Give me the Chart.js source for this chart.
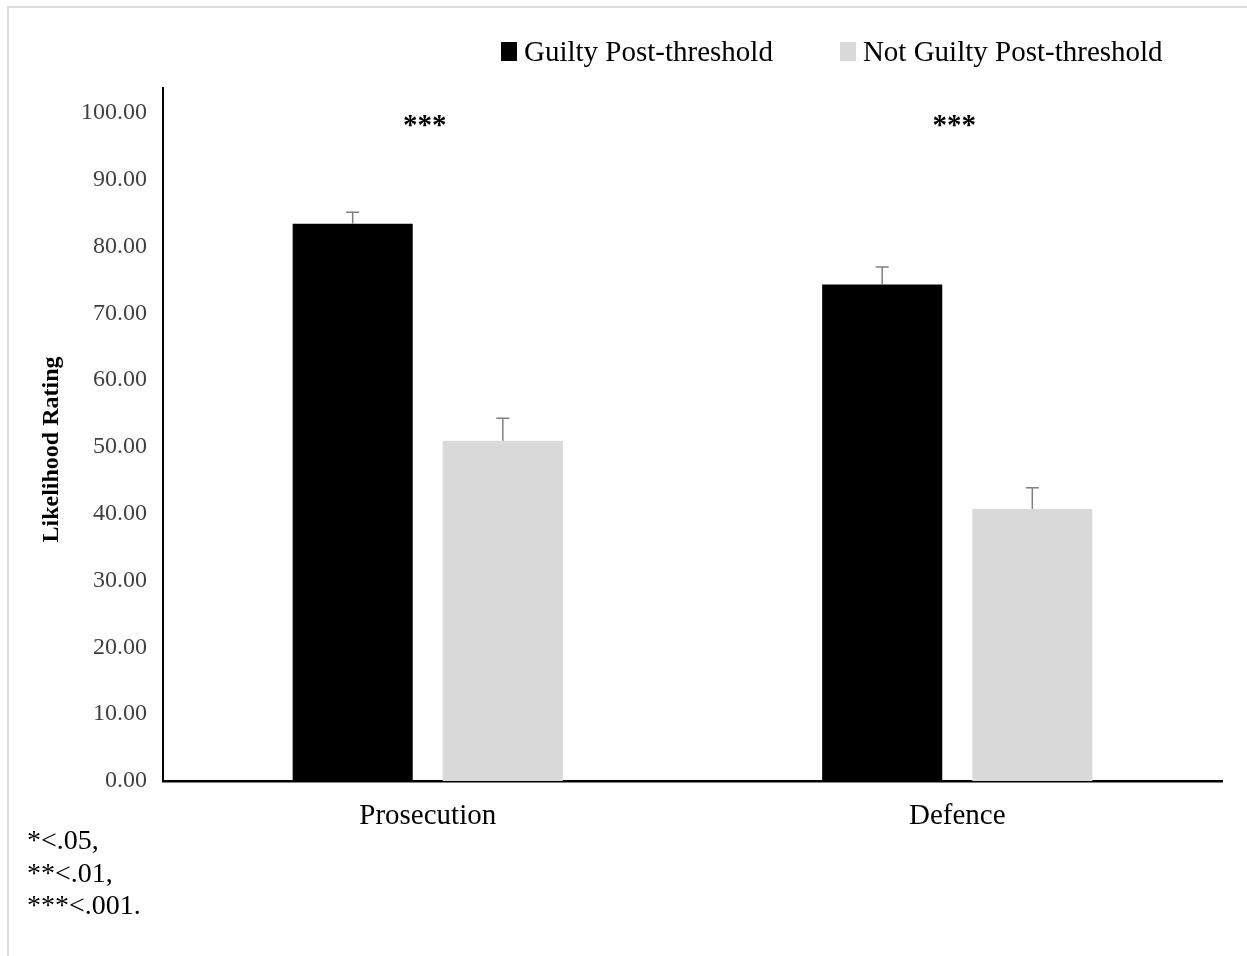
<!DOCTYPE html>
<html>
<head>
<meta charset="utf-8">
<script src="https://cdn.jsdelivr.net/npm/chart.js@4.4.1/dist/chart.umd.min.js"></script>
<style>
    body { margin: 0; background: #fff; }
    #wrap { position: relative; width: 1247px; height: 956px; font-family: "Liberation Serif", "Times New Roman", serif; }
    #frame { position: absolute; left: 7px; top: 6px; right: 0; bottom: 0; border-top: 2px solid #dcdcdc; border-left: 2px solid #dcdcdc; }
    #chart-box { position: absolute; left: 0; top: 0; width: 1247px; height: 956px; }
    #legend { position: absolute; left: 501px; top: 36px; display: flex; gap: 67px; font-size: 29px; line-height: 30px; color: #000; }
    #legend span.item { display: flex; align-items: center; }
    #legend span.swatch { display: inline-block; width: 16px; height: 19px; margin-right: 7px; }
    #notes { position: absolute; left: 27px; top: 824px; font-size: 28px; line-height: 32.5px; color: #000; }
</style>
</head>
<body>
<div id="wrap">
    <div id="frame"></div>
    <div id="chart-box"><canvas id="chart"></canvas></div>
    <div id="legend"></div>
    <div id="notes">*&lt;.05,<br>**&lt;.01,<br>***&lt;.001.</div>
</div>
<script>
// Data
const categories = ['Prosecution', 'Defence'];
const seriesNames = ['Guilty Post-threshold', 'Not Guilty Post-threshold'];
const seriesColors = ['#000000', '#d9d9d9'];
const guiltyMeans = [83.4, 74.3];
const guiltyErr = [1.7, 2.6];
const notGuiltyMeans = [50.9, 40.7];
const notGuiltyErr = [3.4, 3.2];
const sigLabels = ['***', '***'];
const sigLevel = 97;
const yTicks = [0, 10, 20, 30, 40, 50, 60, 70, 80, 90, 100];

const serif = '"Liberation Serif", "Times New Roman", serif';

// Legend built as html so it can sit off-centre like the original
const legendEl = document.getElementById('legend');
seriesNames.forEach((name, i) => {
    const item = document.createElement('span');
    item.className = 'item';
    const sw = document.createElement('span');
    sw.className = 'swatch';
    sw.style.background = seriesColors[i];
    item.appendChild(sw);
    item.appendChild(document.createTextNode(name));
    legendEl.appendChild(item);
});

// Upward-only error bars drawn from the bar elements
const errorBars = {
    id: 'errorBars',
    afterDatasetsDraw(chart) {
        const ctx = chart.ctx;
        const yScale = chart.scales.y;
        ctx.save();
        ctx.strokeStyle = '#7f7f7f';
        ctx.lineWidth = 1.5;
        chart.data.datasets.forEach((ds, i) => {
            const meta = chart.getDatasetMeta(i);
            meta.data.forEach((bar, j) => {
                const top = yScale.getPixelForValue(ds.data[j] + ds.errors[j]);
                const base = yScale.getPixelForValue(ds.data[j]);
                ctx.beginPath();
                ctx.moveTo(bar.x, base);
                ctx.lineTo(bar.x, top);
                ctx.moveTo(bar.x - 6.5, top);
                ctx.lineTo(bar.x + 6.5, top);
                ctx.stroke();
            });
        });
        ctx.restore();
    }
};

// Significance stars over each group
const sigStars = {
    id: 'sigStars',
    afterDatasetsDraw(chart) {
        const ctx = chart.ctx;
        const xScale = chart.scales.x;
        const yScale = chart.scales.y;
        ctx.save();
        ctx.fillStyle = '#000';
        ctx.font = 'bold 29px ' + serif;
        ctx.textAlign = 'center';
        ctx.textBaseline = 'alphabetic';
        sigLabels.forEach((s, i) => {
            ctx.fillText(s, xScale.getPixelForValue(i) - 3, yScale.getPixelForValue(sigLevel) + 1);
        });
        ctx.restore();
    }
};

const ctx = document.getElementById('chart').getContext('2d');
new Chart(ctx, {
    type: 'bar',
    data: {
        labels: categories,
        datasets: [
            {
                label: seriesNames[0],
                data: guiltyMeans,
                errors: guiltyErr,
                backgroundColor: seriesColors[0],
                categoryPercentage: 0.567,
                barPercentage: 0.8
            },
            {
                label: seriesNames[1],
                data: notGuiltyMeans,
                errors: notGuiltyErr,
                backgroundColor: seriesColors[1],
                categoryPercentage: 0.567,
                barPercentage: 0.8
            }
        ]
    },
    options: {
        responsive: true,
        maintainAspectRatio: false,
        animation: false,
        layout: { padding: { top: 88, right: 25, bottom: 0, left: 0 } },
        plugins: {
            legend: { display: false },
            tooltip: { enabled: false }
        },
        scales: {
            x: {
                grid: { display: false, drawTicks: false },
                border: { display: true, color: '#000', width: 2.5 },
                ticks: {
                    color: '#000',
                    padding: 18,
                    font: { family: serif, size: 29 }
                },
                afterFit(scale) { scale.height = 175; }
            },
            y: {
                min: 0,
                max: 103.7,
                afterBuildTicks(scale) {
                    scale.ticks = yTicks.map(v => ({ value: v }));
                },
                grid: { display: false, drawTicks: false },
                border: { display: true, color: '#000', width: 2 },
                ticks: {
                    color: '#404040',
                    padding: 16,
                    font: { family: serif, size: 24 },
                    callback: v => Number(v).toFixed(2)
                },
                title: {
                    display: true,
                    // trailing spaces nudge the rotated title down to where the original sits
                    text: 'Likelihood Rating\u00a0\u00a0\u00a0\u00a0\u00a0',
                    color: '#000',
                    padding: { top: 37, bottom: 0 },
                    font: { family: serif, size: 24, weight: 'bold' }
                },
                afterFit(scale) { scale.width = 163; }
            }
        }
    },
    plugins: [errorBars, sigStars]
});
</script>
</body>
</html>
